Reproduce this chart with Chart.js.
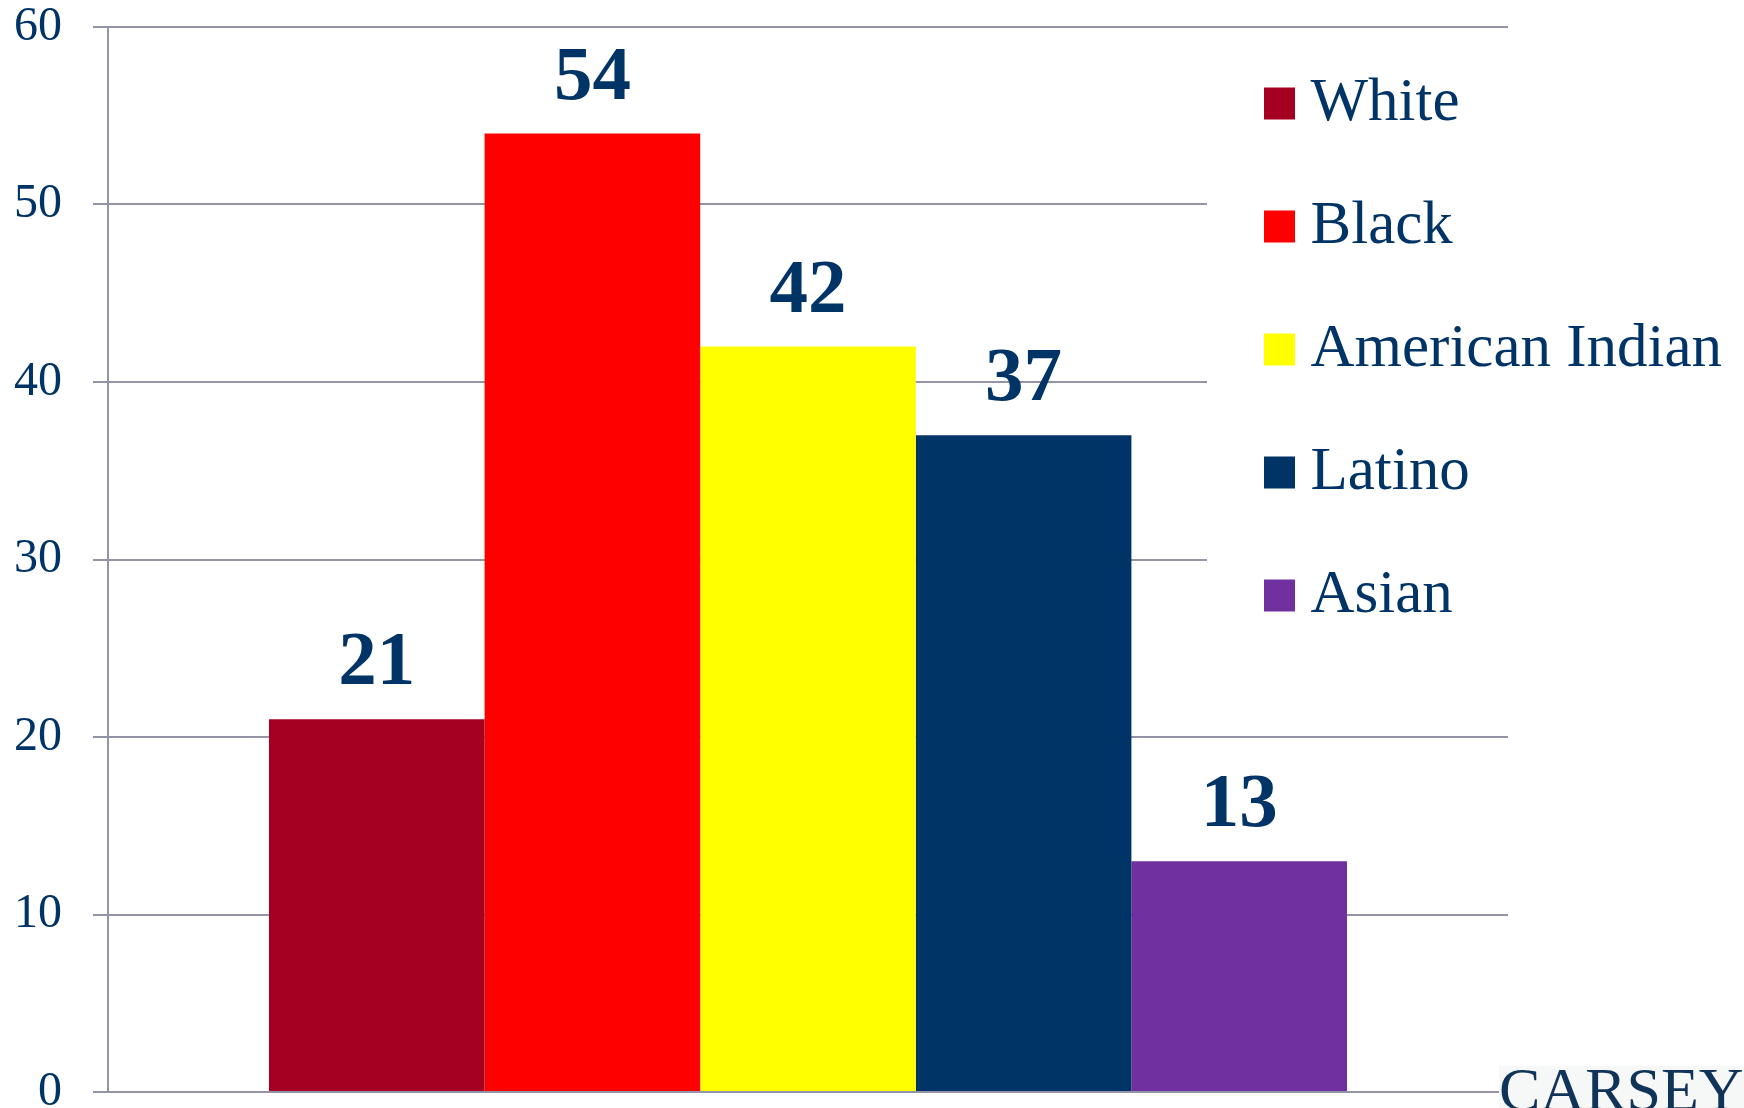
<!DOCTYPE html>
<html>
<head>
<meta charset="utf-8">
<script src="https://cdn.jsdelivr.net/npm/chart.js@4.4.1/dist/chart.umd.min.js"></script>
<style>
  html, body { margin: 0; padding: 0; background: #fff; overflow: hidden; }
  #wrap { position: relative; width: 1744px; height: 1108px; overflow: hidden; }
  #logo {
    position: absolute; left: 1499px; top: 1066px; height: 60px; padding-right: 10px;
    font: 62px "Liberation Serif", serif; line-height: 46px;
    color: #0f3359; background: #f6f7f7;
  }
</style>
</head>
<body>
<div id="wrap">
  <canvas id="chart" width="1744" height="1108"></canvas>
  <div id="logo">CARSEY</div>
</div>
<script>
// Valeurs (pourcentages)
const groups = ['White', 'Black', 'American Indian', 'Latino', 'Asian'];
const values = [21, 54, 42, 37, 13];
const colors = ['#A50021', '#FF0000', '#FFFF00', '#003366', '#7030A0'];
const yTicks = [0, 10, 20, 30, 40, 50, 60];

const navy = '#003366';
const gridGray = '#9494A9';
const serif = '"Liberation Serif", "Times New Roman", serif';

// Etiquettes de valeur au-dessus des barres
const valueLabels = {
  id: 'valueLabels',
  afterDatasetsDraw(chart) {
    const ctx = chart.ctx;
    ctx.save();
    ctx.font = 'bold 77px ' + serif;
    ctx.fillStyle = navy;
    ctx.textAlign = 'center';
    ctx.textBaseline = 'alphabetic';
    chart.data.datasets.forEach((ds, i) => {
      const bar = chart.getDatasetMeta(i).data[0];
      ctx.fillText(String(ds.data[0]), bar.x, bar.y - 35);
    });
    ctx.restore();
  }
};

// Légende placée dans la zone du graphique, sur un fond blanc
const legendPanel = {
  id: 'legendPanel',
  afterInit(chart) {
    const lg = chart.legend;
    if (!lg) return;
    lg._layers = () => [{
      z: 0,
      draw(area) {
        const ctx = chart.ctx;
        ctx.save();
        ctx.fillStyle = '#ffffff';
        ctx.fillRect(lg.left - 10, 40, chart.width - lg.left + 10, 660);
        ctx.restore();
        lg.draw(area);
      }
    }];
  },
  afterLayout(chart) {
    const lg = chart.legend;
    if (!lg) return;
    lg.left = 1217;
    lg.right = chart.width;
    lg.top = 11;
    lg.bottom = chart.height;
  }
};

const ctx = document.getElementById('chart').getContext('2d');
new Chart(ctx, {
  type: 'bar',
  data: {
    labels: [''],
    datasets: groups.map((g, i) => ({
      label: g,
      data: [values[i]],
      backgroundColor: colors[i],
      borderWidth: 0,
      categoryPercentage: 0.77,
      barPercentage: 1.0
    }))
  },
  options: {
    responsive: false,
    animation: false,
    events: [],
    layout: { padding: { top: 27, bottom: 16, left: 0, right: 236 } },
    scales: {
      x: { display: false },
      y: {
        min: 0,
        max: 60,
        afterBuildTicks: s => { s.ticks = yTicks.map(v => ({ value: v })); },
        afterFit: s => { s.width = 108; s.paddingTop = 0; s.paddingBottom = 0; },
        ticks: {
          color: navy,
          padding: 31,
          font: { family: serif, size: 48 }
        },
        grid: { color: gridGray, lineWidth: 2, tickLength: 15, z: -1 },
        border: { color: gridGray, width: 2 }
      }
    },
    plugins: {
      tooltip: { enabled: false },
      legend: {
        position: 'chartArea',
        align: 'start',
        labels: {
          padding: 62,
          boxWidth: 1,
          boxHeight: 2,
          color: navy,
          font: { family: serif, size: 61 },
          generateLabels: chart => chart.data.datasets.map((ds, i) => ({
            text: ds.label,
            fillStyle: ds.backgroundColor,
            strokeStyle: ds.backgroundColor,
            lineWidth: 30,
            fontColor: navy,
            hidden: false,
            datasetIndex: i
          }))
        }
      }
    }
  },
  plugins: [valueLabels, legendPanel]
});
</script>
</body>
</html>
